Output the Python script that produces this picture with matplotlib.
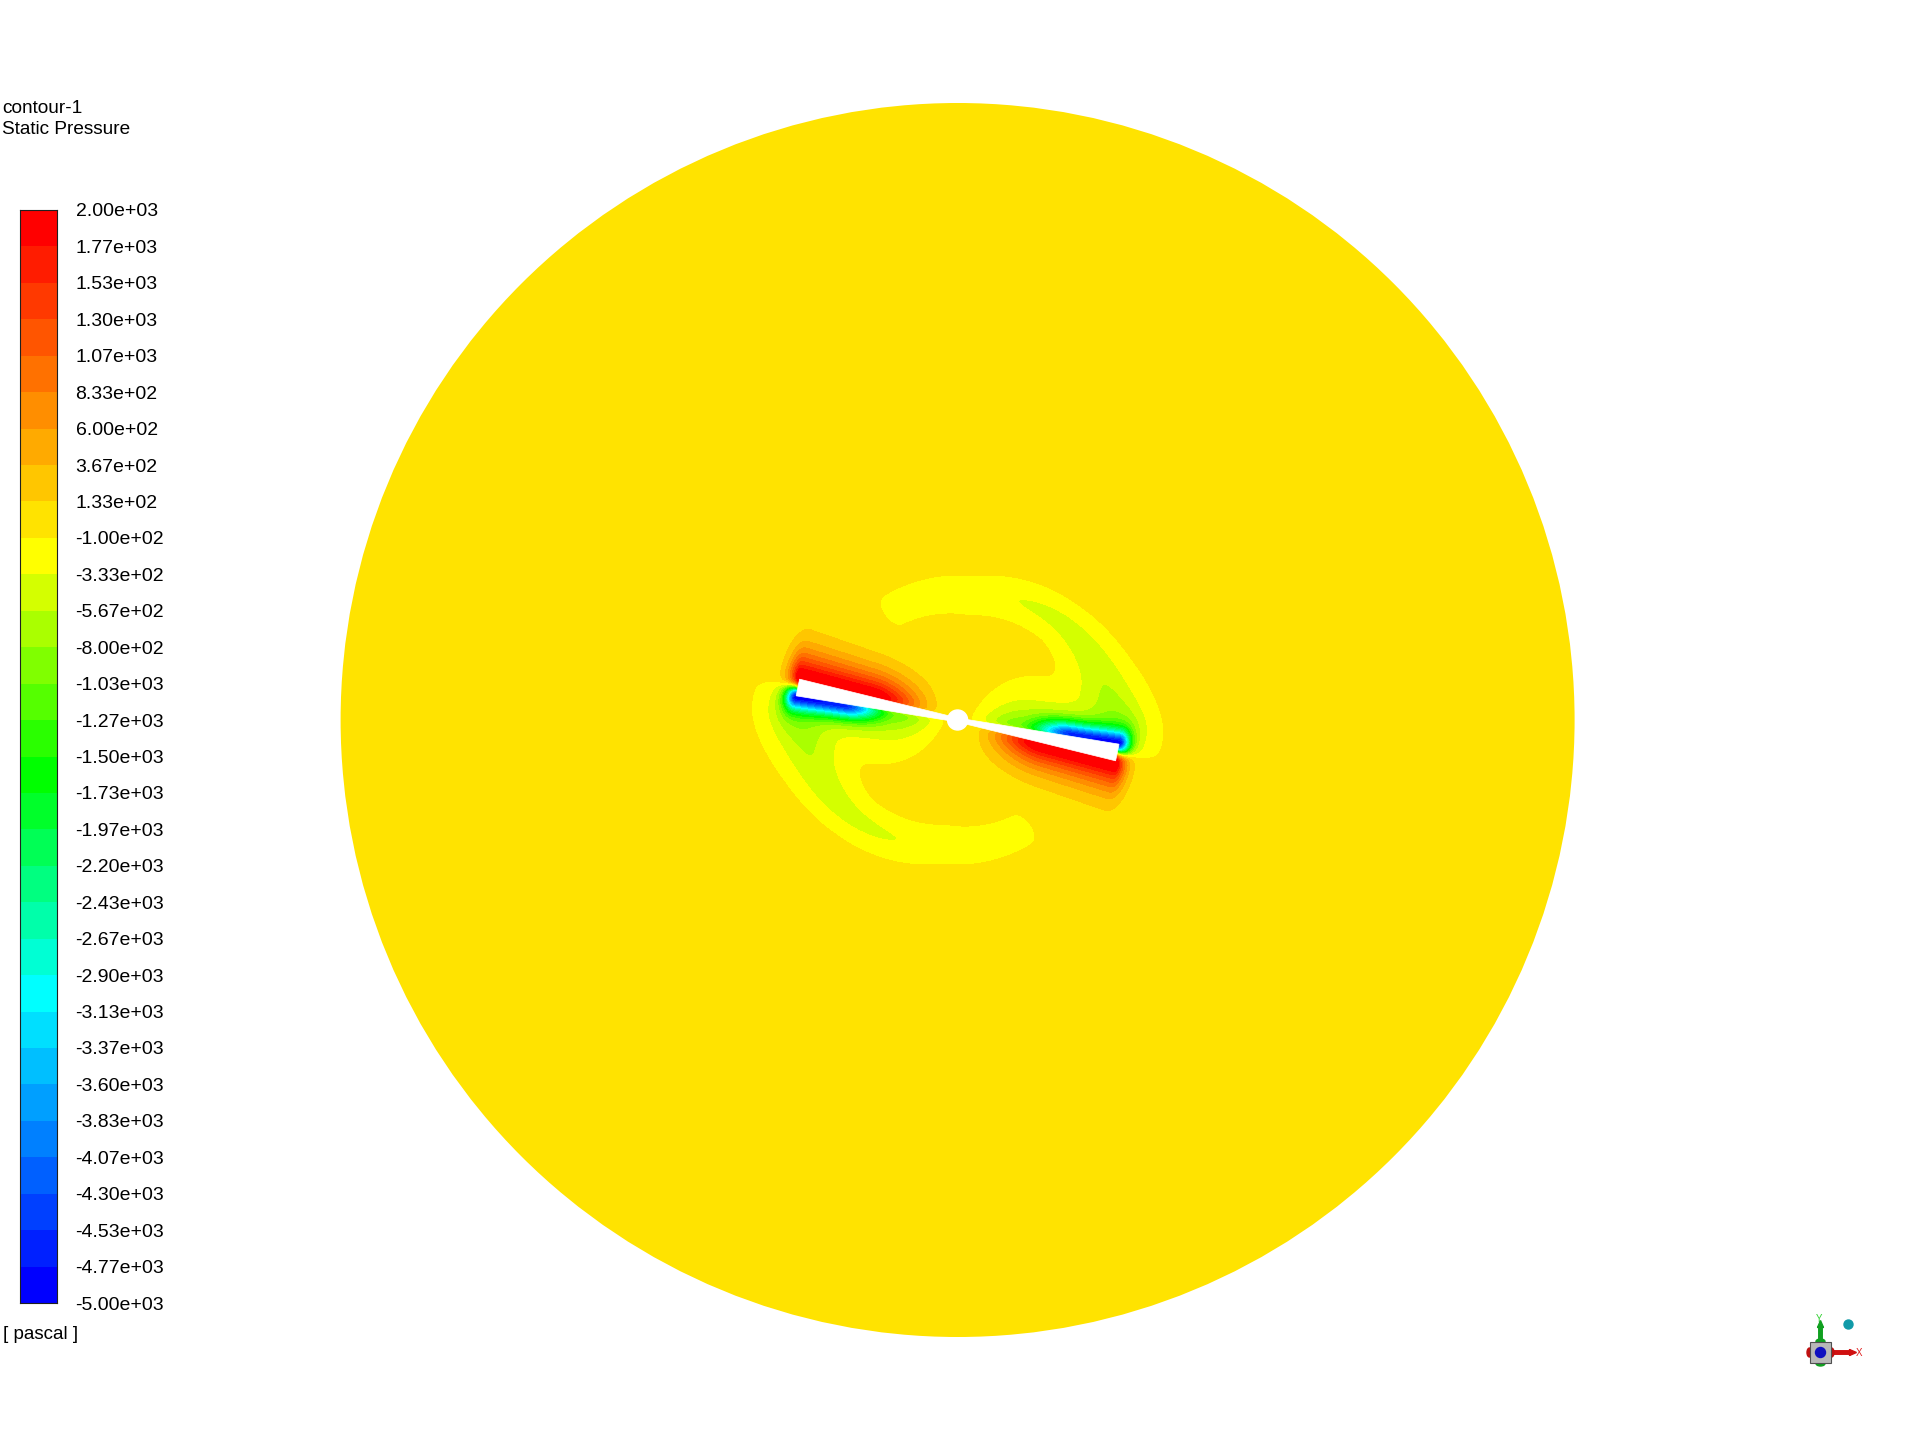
import numpy as np
import matplotlib
matplotlib.use("Agg")
import matplotlib.pyplot as plt
from matplotlib.patches import Circle, Polygon, Rectangle, FancyArrow, Ellipse

# ---------------- data / labels ----------------
title_lines = ["contour-1", "Static Pressure"]
unit_label = "[ pascal ]"
p_min, p_max, n_bands = -5000.0, 2000.0, 30
tick_labels = ["2.00e+03", "1.77e+03", "1.53e+03", "1.30e+03", "1.07e+03", "8.33e+02",
               "6.00e+02", "3.67e+02", "1.33e+02", "-1.00e+02", "-3.33e+02", "-5.67e+02",
               "-8.00e+02", "-1.03e+03", "-1.27e+03", "-1.50e+03", "-1.73e+03", "-1.97e+03",
               "-2.20e+03", "-2.43e+03", "-2.67e+03", "-2.90e+03", "-3.13e+03", "-3.37e+03",
               "-3.60e+03", "-3.83e+03", "-4.07e+03", "-4.30e+03", "-4.53e+03", "-4.77e+03",
               "-5.00e+03"]
# band colours, bottom (-5000) to top (+2000)
band_rgb = [(0, 0, 255), (0, 32, 255), (0, 64, 255), (0, 96, 255), (0, 128, 255),
            (0, 159, 255), (0, 191, 255), (0, 223, 255), (0, 255, 255),
            (0, 255, 212), (0, 255, 170), (0, 255, 128), (0, 255, 85), (0, 255, 42), (0, 255, 0),
            (42, 255, 0), (85, 255, 0), (128, 255, 0), (170, 255, 0), (212, 255, 0), (255, 255, 0),
            (255, 227, 0), (255, 198, 0), (255, 170, 0), (255, 142, 0), (255, 113, 0),
            (255, 85, 0), (255, 57, 0), (255, 28, 0), (255, 0, 0)]

# rotor geometry / flow-field parameters (pixel units)
blade_angle_deg = -11.5
tip_radius = 163.0
hub_radius = 10.0
root_half_thick, tip_half_thick = 2.0, 8.5
domain_radius = 617.0
pressure_peak = 2800.0
suction_core_peak = 3800.0
suction_tail_peak = 1500.0
wake_phi = [0, 25, 55, 95, 128, 140]
wake_rc = [165, 152, 142, 125, 127, 128]
wake_width = [25, 27, 21, 20.5, 19, 18]
wake_amp = [500, 480, 400, 260, 240, 230]
wake_end = 140.0

# ---------------- layout ----------------
W, H = 1920, 1440
cx, cy = 957.6, 720.0
cb_left, cb_right, cb_top, cb_bottom = 19.5, 57.5, 210.0, 1303.0

fontfam = ["Liberation Sans", "DejaVu Sans"]
plt.rcParams['font.family'] = fontfam

fig = plt.figure(figsize=(W / 100, H / 100), dpi=100)
ax = fig.add_axes([0, 0, 1, 1])
ax.set_xlim(0, W)
ax.set_ylim(H, 0)
ax.axis('off')


def smoothstep(a, b, x):
    t = np.clip((x - a) / (b - a), 0, 1)
    return t * t * (3 - 2 * t)


# ---------------- field ----------------
g = np.arange(-625, 626, 1.0)
X, Y = np.meshgrid(g, g)
Rr = np.hypot(X, Y)
TH = np.degrees(np.arctan2(Y, X))
P = np.zeros_like(X)
for k in range(2):
    ang = blade_angle_deg + 180 * k
    a = np.radians(ang)
    ux, uy = np.cos(a), np.sin(a)
    nx, ny = uy, -ux
    s = X * ux + Y * uy
    n = X * nx + Y * ny
    sc = np.clip(s, 0, tip_radius)
    t = root_half_thick + (tip_half_thick - root_half_thick) * sc / tip_radius
    e = np.maximum(s - tip_radius, 0)
    side_p = 1 / (1 + np.exp(-n / 3))
    side_s = 1 - side_p
    # pressure side
    dp = np.hypot(np.maximum(n - t, 0), 2.5 * e)
    scl = 0.7 + 0.3 * sc / tip_radius
    fp = 0.55 * np.exp(-dp / (13 * scl)) + 0.45 * np.exp(-(dp / (32 * scl)) ** 2)
    P += pressure_peak * smoothstep(10, 90, s) * fp * side_p
    # suction side
    ds = np.hypot(np.maximum(-n - t, 0), 1.3 * e)
    P -= side_s * (suction_core_peak * smoothstep(60, 115, s) * np.exp(-(ds / 14) ** 2)
                   + suction_tail_peak * smoothstep(0, 70, s) * np.exp(-ds / 20))
    # trailing wake arm
    phi = (TH - ang) % 360
    rc = np.interp(phi, wake_phi, wake_rc)
    ww = np.interp(phi, wake_phi, wake_width)
    aa = np.interp(phi, wake_phi, wake_amp) * smoothstep(0, 12, phi) * \
        (1 - smoothstep(wake_end - 8, wake_end, phi))
    P -= aa * np.exp(-((Rr - rc) / ww) ** 2)

P = np.clip(P, p_min + 1, p_max - 1)
levels = np.linspace(p_min, p_max, n_bands + 1)
colors = [tuple(c / 255 for c in rgb) for rgb in band_rgb]

cs = ax.contourf(cx + X, cy - Y, P, levels=levels, colors=colors, antialiased=False)
clip = Circle((cx, cy), domain_radius, transform=ax.transData, facecolor='none', edgecolor='none')
ax.add_patch(clip)
cs.set_clip_path(clip)

# blades and hub (white)
for k in range(2):
    a = np.radians(blade_angle_deg + 180 * k)
    ux, uy = np.cos(a), np.sin(a)
    nx, ny = uy, -ux
    pts = []
    for (ss, nn) in [(0, root_half_thick), (tip_radius, tip_half_thick),
                     (tip_radius, -tip_half_thick), (0, -root_half_thick)]:
        xx = ss * ux + nn * nx
        yy = ss * uy + nn * ny
        pts.append((cx + xx, cy - yy))
    ax.add_patch(Polygon(pts, closed=True, facecolor='white', edgecolor='white', lw=0.5, zorder=5))
ax.add_patch(Circle((cx, cy), hub_radius, facecolor='white', edgecolor='white', zorder=6))

# ---------------- texts ----------------
ax.text(2.5, 113, title_lines[0], fontsize=13.7, va='baseline', ha='left', color='black')
ax.text(2.5, 133.5, title_lines[1], fontsize=13.7, va='baseline', ha='left', color='black')
ax.text(3, 1339, unit_label, fontsize=13.5, va='baseline', ha='left', color='black')

# ---------------- colour bar ----------------
cax = fig.add_axes([cb_left / W, 1 - cb_bottom / H, (cb_right - cb_left) / W, (cb_bottom - cb_top) / H])
step = (p_max - p_min) / n_bands
cax.bar(0, height=step, bottom=levels[:-1], width=1, color=colors, align='edge')
cax.set_xlim(0, 1)
cax.set_ylim(p_min, p_max)
cax.set_xticks([])
cax.yaxis.tick_right()
cax.set_yticks(levels[::-1])
cax.set_yticklabels(tick_labels)
cax.tick_params(axis='y', length=0, pad=13, labelsize=14)
for sp in cax.spines.values():
    sp.set_linewidth(0.8)
    sp.set_color('#202020')

# ---------------- axis triad ----------------
tx, ty = 1820.5, 1352.5
ax.add_patch(FancyArrow(tx, ty - 10, 0, -22, width=3.5, head_width=6, head_length=7,
                        length_includes_head=True, color='#10a020', zorder=7))
ax.add_patch(FancyArrow(tx + 10, ty, 26, 0, width=3.5, head_width=6, head_length=7,
                        length_includes_head=True, color='#d01010', zorder=7))
ax.add_patch(Ellipse((tx - 11, ty), 5, 9, color='#c01010', zorder=7))
ax.add_patch(Ellipse((tx + 11, ty), 5, 9, color='#c01010', zorder=7))
ax.add_patch(Ellipse((tx, ty - 11), 9, 5, color='#10a020', zorder=7))
ax.add_patch(Ellipse((tx, ty + 11), 9, 5, color='#10a020', zorder=7))
ax.add_patch(Rectangle((tx - 10.5, ty - 10.5), 21, 21, facecolor='#b8b8b8', edgecolor='#505050',
                       lw=0.8, zorder=8))
ax.add_patch(Circle((tx, ty), 5, color='#1010c0', zorder=9))
ax.add_patch(Circle((tx + 28, ty - 28), 4.5, color='#109aa8', zorder=7))
ax.text(tx - 1, ty - 34, "Y", fontsize=7, color='#30d030', ha='center', va='center')
ax.text(tx + 39, ty, "X", fontsize=7, color='#e02020', ha='center', va='center')

fig.savefig("out.png", dpi=100, facecolor='white')
